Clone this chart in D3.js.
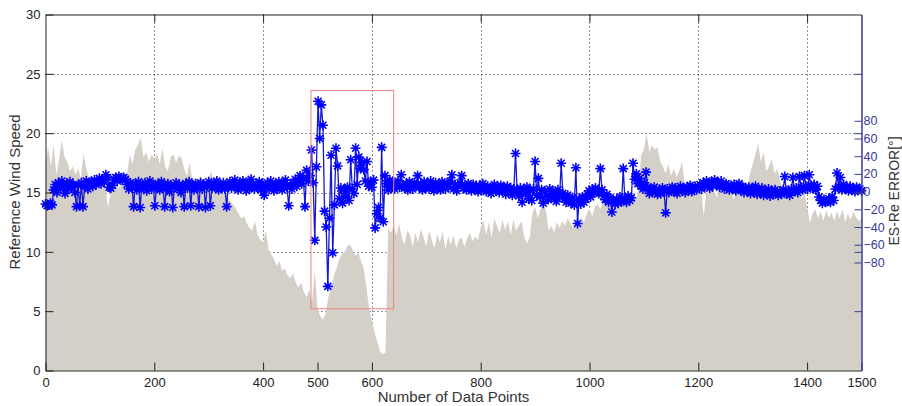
<!DOCTYPE html>
<html lang="en">
<head>
<meta charset="UTF-8">
<title>Reference Wind Speed / ES-Re ERROR</title>
<style>
  body { margin: 0; background: #fff; }
  svg text { font-family: Arial, "Liberation Sans", Helvetica, sans-serif; }
</style>
</head>
<body>
<script src="https://d3js.org/d3.v7.min.js"></script>
<script>
// wind speed every 5 data points, error every 3 (0..1500)
var windStep = 5
var errorStep = 3

var windSpeed = [
  17.5, 18.8, 17.2, 19.0, 16.5, 17.8, 19.4, 18.0, 17.6, 16.8,
  17.2, 16.5, 17.0, 16.2, 18.3, 17.0, 16.2, 15.8, 16.4, 16.0,
  15.6, 16.2, 15.5, 13.7, 15.0, 15.6, 16.0, 15.4, 15.8, 16.2,
  16.5, 18.2, 17.4, 18.6, 19.0, 19.6, 18.0, 18.4, 17.6, 18.2,
  17.8, 18.3, 17.4, 18.7, 17.2, 16.8, 18.0, 18.2, 17.5, 18.1,
  17.9, 17.0, 16.4, 17.5, 16.0, 16.2, 15.8, 16.4, 16.0, 15.6,
  16.2, 16.8, 15.6, 15.8, 15.0, 14.8, 15.2, 14.6, 14.2, 14.0,
  13.6, 13.2, 12.8, 13.0, 12.4, 12.0, 11.8, 12.6, 11.4, 11.0,
  10.8, 11.8, 10.2, 9.8, 9.4, 8.8, 9.2, 8.4, 8.6, 8.0,
  7.8, 8.2, 7.4, 7.0, 7.4, 6.6, 6.2, 6.8, 5.8, 8.4,
  5.2, 4.6, 4.3, 4.8, 6.2, 7.0, 8.0, 8.6, 9.4, 9.8,
  10.0, 10.5, 10.6, 10.1, 9.7, 9.9, 9.2, 8.6, 7.0, 5.2,
  4.2, 3.2, 2.4, 1.6, 1.4, 1.5, 12.0, 11.6, 12.2, 11.4,
  12.4, 11.2, 10.6, 11.8, 11.4, 10.4, 11.6, 10.8, 11.9, 11.2,
  10.5, 11.8, 11.0, 10.3, 11.5, 10.8, 11.7, 10.2, 11.3, 10.6,
  11.4, 10.3, 11.0, 11.2, 10.4, 11.1, 11.6, 10.9, 11.3, 11.0,
  12.0, 12.6, 11.4, 12.5, 11.2, 12.8, 12.2, 11.6, 12.7, 11.8,
  12.6, 11.4, 12.7, 11.8, 12.2, 12.6, 11.3, 10.7, 11.2, 13.2,
  13.8, 12.8, 13.6, 14.2, 13.4, 11.8, 12.2, 11.6, 12.5, 12.0,
  12.6, 12.2, 12.8, 12.4, 12.0, 12.7, 12.3, 12.9, 12.5, 13.2,
  13.6, 13.0, 13.8, 14.0, 13.6, 14.2, 13.8, 14.4, 14.0, 13.7,
  14.2, 13.8, 14.4, 14.0, 14.6, 14.2, 15.0, 14.4, 15.0, 18.2,
  18.6, 20.0, 18.4, 19.0, 18.6, 18.8, 17.6, 17.2, 16.6, 17.4,
  16.4, 17.0, 16.3, 16.8, 17.6, 15.8, 15.4, 15.9, 15.2, 15.6,
  15.0, 15.4, 13.0, 15.2, 14.8, 15.6, 15.0, 14.6, 15.4, 15.2,
  14.8, 15.3, 15.6, 14.4, 15.0, 15.8, 15.2, 14.6, 15.4, 16.6,
  17.4, 18.2, 19.1, 17.6, 18.4, 16.8, 17.2, 17.8, 16.6, 17.0,
  16.0, 15.4, 15.0, 15.6, 14.6, 15.2, 14.8, 15.4, 14.4, 15.0,
  13.8, 12.4, 13.2, 13.6, 12.8, 13.4, 12.6, 13.5, 12.9, 13.3,
  12.6, 13.4, 12.8, 13.6, 12.5, 13.2, 12.7, 13.4, 12.9, 12.6, 12.8
]

var esReError = [
  -14, -16, -15, -13, -15, 2, 8, -1, 10, 4,
  12, 6, -2, 9, 3, 11, 5, 8, -1, -17,
  7, -16, 10, -17, 6, 12, 3, 9, 11, 6,
  13, 8, 11, 15, 9, 14, 12, 19, 16, 5,
  4, 7, 14, 16, 12, 17, 15, 13, 16, 14,
  8, 3, 10, 5, -17, 9, 2, 11, -18, 6,
  4, 10, 1, 7, 12, 3, 8, -16, 5, 9,
  2, 11, 6, -17, 4, 9, 0, 7, -18, 5,
  10, 3, 8, -1, 6, -17, 9, 4, 11, -16,
  7, 2, 9, 5, -17, 10, 3, 8, -18, 6,
  11, -16, 4, 9, 6, 12, 2, 8, 5, 10,
  3, -17, 7, 11, 4, 9, 13, 6, 2, 10,
  5, 12, 8, 1, 10, 4, 14, 7, 3, 9,
  6, 11, 2, 8, -4, 5, 10, 3, 12, 6,
  1, 9, 4, 11, 6, 2, 8, 13, 5, -16,
  7, 3, 10, 14, 6, 12, 18, 9, 15, -17,
  24, 12, 18, 47, 10, -55, 28, 102, 60, 98,
  75, -22, -40, -107, -30, 41, -69, -15, 49, 29,
  -8, 4, -13, 2, -6, 5, -10, 36, 3, -2,
  49, 8, 39, 26, 33, 25, 12, 34, 6, 10,
  5, 13, -41, -25, -18, -30, 50, -34, 18, 9,
  2, 13, 6, 10, 3, 8, 12, 5, 19, 7,
  4, 9, 2, 11, 6, 3, 10, 7, 18, 5,
  8, 2, 11, 5, 9, 3, 12, 6, 1, 10,
  4, 8, 2, 11, 6, 3, 9, 5, 12, 19,
  3, 8, 1, 6, 10, 18, 4, 7, 2, 9,
  5, 1, 8, 3, 7, 0, 6, 2, 9, 4,
  0, 6, 3, -2, 5, 8, 1, 4, -1, 7,
  2, 5, -3, 6, 1, 4, -4, 3, 43, 0,
  -5, 4, -12, 2, -3, 5, -8, 1, -10, 3,
  34, -4, 15, -6, 2, -13, 1, -5, -9, 3,
  -7, 0, -3, -11, 2, -6, 32, -2, -8, -12,
  -4, -10, -13, -7, -15, 27, -36, -9, -14, -6,
  -12, -8, -3, 1, -6, 3, -1, 4, 0, -2,
  26, 2, -5, -9, -3, -12, -7, -23, -10, -14,
  -9, -13, -6, -11, 26, -8, -12, -5, -10, -7,
  32, 14, 20, 9, 15, 6, 3, 10, 22, 5,
  -2, 3, -1, 5, 0, -3, 2, -2, 4, 1,
  -24, 3, -1, 2, 5, 0, 4, -2, 3, 6,
  1, 4, -1, 5, 2, 7, 0, 3, 6, 2,
  5, 8, 3, 10, 6, 12, 9, 4, 11, 7,
  13, 8, 10, 5, 12, 7, 3, 9, 6, 2,
  7, 3, 8, 1, 5, 9, 2, 6, -1, 4,
  1, 5, -2, 3, 0, 6, -3, 2, -1, 4,
  -4, 0, -2, 3, -5, 1, -3, 2, -1, -4,
  0, -3, 2, 17, -2, 1, -4, 3, 16, 0,
  4, -1, 17, 5, 2, 18, 6, 3, 19, 7,
  4, 8, 2, 6, -6, -10, -13, -9, -12, -11,
  -8, -12, -6, -10, 3, 21, 6, 16, 2, 8,
  3, 5, 1, 6, 2, 4, 0, 5, 2, 3, 1
]

var xTicks = [0, 200, 400, 500, 600, 800, 1000, 1200, 1400, 1500]
var xGrid = [200, 400, 600, 800, 1000, 1200, 1400]
var yTicks = [0, 5, 10, 15, 20, 25, 30]
var yGrid = [5, 10, 15, 20, 25]
var errTicks = [-80, -60, -40, -20, 0, 20, 40, 60, 80]
// highlighted region: [x0, x1] data points, [y0, y1] wind speed
var boxX = [488, 640], boxY = [5.2, 23.6]

var width = 902, height = 406
var plot = {left: 45.5, right: 861.5, top: 14.5, bottom: 370.5}
var navy = '#3a3a96'

var svg = d3.select('body').append('svg')
    .attr('width', width).attr('height', height)

var x = d3.scaleLinear().domain([0, 1500]).range([plot.left, plot.right])
var y = d3.scaleLinear().domain([0, 30]).range([plot.bottom, plot.top])
var yErr = d3.scaleLinear().domain([-202, 200]).range([plot.bottom, plot.top])

// dotted grid (under the grey area)
var grid = svg.append('g').attr('stroke', '#222').attr('stroke-width', 1)
    .attr('stroke-dasharray', '1,3')
grid.selectAll('line.v').data(xGrid).enter().append('line')
    .attr('x1', d => Math.round(x(d)) + 0.5).attr('x2', d => Math.round(x(d)) + 0.5)
    .attr('y1', plot.top).attr('y2', plot.bottom)
grid.selectAll('line.h').data(yGrid).enter().append('line')
    .attr('y1', d => Math.round(y(d)) + 0.5).attr('y2', d => Math.round(y(d)) + 0.5)
    .attr('x1', plot.left).attr('x2', plot.right)

// grey wind speed area
var area = d3.area()
    .x((d, i) => x(i * windStep))
    .y0(y(0))
    .y1(d => y(d))
svg.append('path').datum(windSpeed)
    .attr('d', area)
    .attr('fill', '#d4d0c8')

// error line with asterisk markers
var line = d3.line()
    .x((d, i) => x(i * errorStep))
    .y(d => yErr(d))
svg.append('path').datum(esReError)
    .attr('d', line)
    .attr('fill', 'none')
    .attr('stroke', '#1818d0')
    .attr('stroke-width', 1.3)

var star = 'M-5,0H5M0,-5V5M-3.5,-3.5L3.5,3.5M-3.5,3.5L3.5,-3.5'
svg.append('g').selectAll('path').data(esReError).enter().append('path')
    .attr('transform', (d, i) => 'translate(' + x(i * errorStep) + ',' + yErr(d) + ')')
    .attr('d', star)
    .attr('fill', 'none')
    .attr('stroke', '#0000ff')
    .attr('stroke-width', 1.6)

// red highlight box
svg.append('rect')
    .attr('x', x(boxX[0])).attr('y', y(boxY[1]))
    .attr('width', x(boxX[1]) - x(boxX[0]))
    .attr('height', y(boxY[0]) - y(boxY[1]))
    .attr('fill', 'none')
    .attr('stroke', '#f08080')
    .attr('stroke-width', 1)

// axes
var fmt = d3.format('d')
var gx = svg.append('g').attr('transform', 'translate(0,' + plot.bottom + ')')
    .call(d3.axisBottom(x).tickValues(xTicks).tickFormat(fmt).tickSize(-8).tickSizeOuter(0).tickPadding(7))
var gxTop = svg.append('g').attr('transform', 'translate(0,' + plot.top + ')')
    .call(d3.axisTop(x).tickValues(xGrid).tickFormat('').tickSize(-8).tickSizeOuter(0))
var gy = svg.append('g').attr('transform', 'translate(' + plot.left + ',0)')
    .call(d3.axisLeft(y).tickValues(yTicks).tickFormat(fmt).tickSize(-8).tickSizeOuter(0).tickPadding(5))

;[gx, gxTop, gy].forEach(g => {
  g.select('.domain').attr('stroke', '#222')
  g.selectAll('.tick line').attr('stroke', '#222')
  g.selectAll('text').attr('fill', '#222').style('font-size', '13px')
})

var gyMirror = svg.append('g').attr('transform', 'translate(' + plot.right + ',0)')
    .call(d3.axisRight(y).tickValues(yGrid).tickFormat('').tickSize(-7).tickSizeOuter(0))
var gErr = svg.append('g').attr('transform', 'translate(' + plot.right + ',0)')
    .call(d3.axisRight(yErr).tickValues(errTicks).tickFormat(fmt).tickSize(-7).tickSizeOuter(0).tickPadding(2))
;[gyMirror, gErr].forEach(g => {
  g.select('.domain').attr('stroke', navy)
  g.selectAll('.tick line').attr('stroke', navy)
  g.selectAll('text').attr('fill', navy).style('font-size', '12.5px')
})

// axis titles
svg.append('text')
    .attr('transform', 'translate(20,192) rotate(-90)')
    .attr('text-anchor', 'middle')
    .attr('fill', '#333').style('font-size', '15px')
    .text('Reference Wind Speed')
svg.append('text')
    .attr('x', (plot.left + plot.right) / 2).attr('y', 402)
    .attr('text-anchor', 'middle')
    .attr('fill', '#333').style('font-size', '15px')
    .text('Number of Data Points')
svg.append('text')
    .attr('transform', 'translate(899,191) rotate(-90)')
    .attr('text-anchor', 'middle')
    .attr('fill', '#333').style('font-size', '14px')
    .text('ES-Re ERROR[°]')
</script>
</body>
</html>
